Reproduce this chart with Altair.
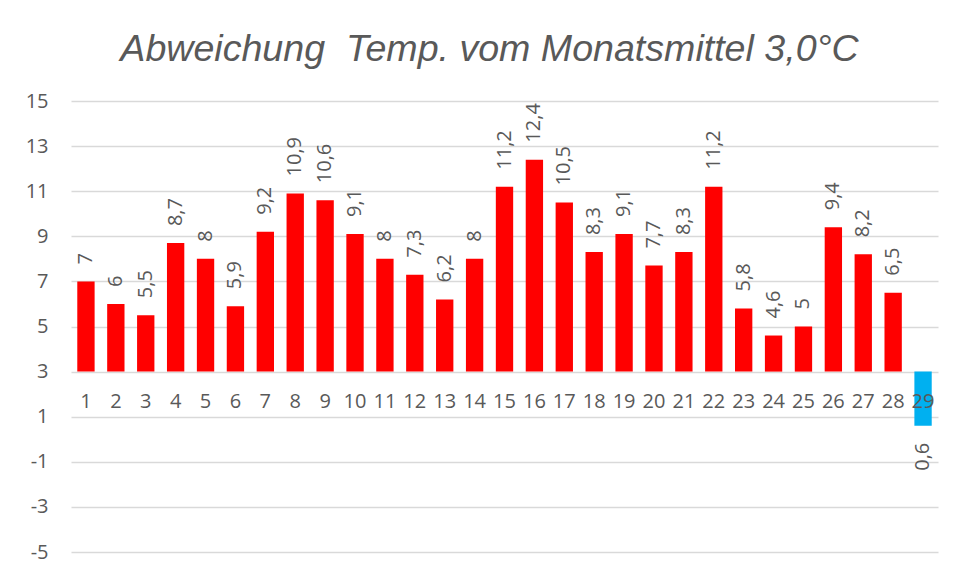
import altair as alt
import pandas as pd

BASE = 3.0  # Monatsmittel
days = [str(d) for d in range(1, 30)]
values = [7, 6, 5.5, 8.7, 8, 5.9, 9.2, 10.9, 10.6, 9.1, 8, 7.3, 6.2, 8, 11.2,
          12.4, 10.5, 8.3, 9.1, 7.7, 8.3, 11.2, 5.8, 4.6, 5, 9.4, 8.2, 6.5, 0.6]
y_ticks = [-5, -3, -1, 1, 3, 5, 7, 9, 11, 13, 15]

df = pd.DataFrame({"Tag": days, "Wert": values})
df["Lage"] = ["über" if v >= BASE else "unter" for v in values]

FONT = "Open Sans"
FS = 20
GRAY = "#595959"

x_enc = alt.X("Tag:N", sort=days,
              scale=alt.Scale(paddingInner=0.42, paddingOuter=0.21),
              axis=None)
y_scale = alt.Scale(domain=[-5, 15], nice=False, zero=False)
y_enc = alt.Y("Wert:Q", scale=y_scale,
              axis=alt.Axis(values=y_ticks, title=None, domain=False, ticks=False,
                            labelExpr="toString(datum.value)", labelPadding=23))

base = alt.Chart(df)

bars = base.mark_bar().encode(
    x=x_enc,
    y=y_enc,
    y2=alt.datum(BASE),
    color=alt.Color("Lage:N", scale=alt.Scale(domain=["über", "unter"],
                                              range=["#ff0000", "#00b0f0"]),
                    legend=None),
)

lab_expr = "replace(toString(datum.Wert), '.', ',')"

labels_up = base.transform_filter("datum.Wert >= %s" % BASE).transform_calculate(
    lab=lab_expr).mark_text(angle=270, align="left", baseline="middle", dx=17,
                            font=FONT, fontSize=FS, color=GRAY).encode(
    x=x_enc, y=y_enc, text="lab:N")

labels_down = base.transform_filter("datum.Wert < %s" % BASE).transform_calculate(
    lab=lab_expr).mark_text(angle=270, align="right", baseline="middle", dx=-17,
                            font=FONT, fontSize=FS, color=GRAY).encode(
    x=x_enc, y=y_enc, text="lab:N")

cat_labels = base.mark_text(baseline="top", dy=20, font=FONT, fontSize=FS,
                            color=GRAY).encode(
    x=x_enc, y=alt.datum(BASE), text="Tag:N")

chart = alt.layer(bars, labels_up, labels_down, cat_labels).properties(
    width=867, height=451,
    title=alt.TitleParams("Abweichung\u00a0 Temp. vom Monatsmittel 3,0°C",
                          font="Liberation Sans", fontSize=37.6, fontStyle="italic",
                          fontWeight="normal", color=GRAY, anchor="middle",
                          dx=-15, offset=22),
    autosize=alt.AutoSizeParams(type="none"),
    padding={"left": 63, "top": 93, "right": 16, "bottom": 24},
).configure_view(stroke=None).configure_axisY(
    labelPadding=23, labelFont=FONT, labelFontSize=FS, labelColor=GRAY,
    gridColor="#d9d9d9", gridWidth=1.3, ticks=False, domain=False,
)

chart.save("out.html", embed_options={"renderer": "svg", "actions": False})
